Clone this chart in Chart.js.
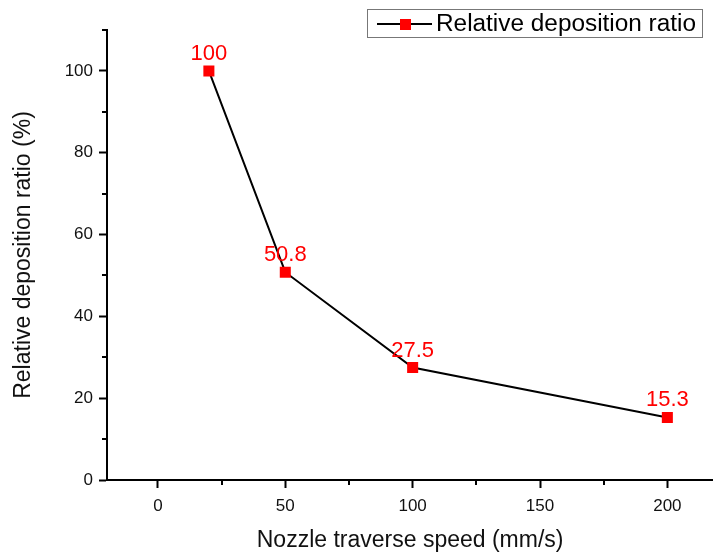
<!DOCTYPE html>
<html>
<head>
<meta charset="utf-8">
<script src="https://cdn.jsdelivr.net/npm/chart.js@4/dist/chart.umd.min.js"></script>
<style>
html, body { margin: 0; padding: 0; background: #fff; overflow: hidden; }
canvas { display: block; }
</style>
</head>
<body>
<canvas id="chart" width="721" height="556"></canvas>
<script>
// data
const speeds = [20, 50, 100, 200];          // mm/s
const ratios = [100, 50.8, 27.5, 15.3];     // %
const pointLabels = ['100', '50.8', '27.5', '15.3'];
const xMajorTicks = [0, 50, 100, 150, 200];
const yMajorTicks = [0, 20, 40, 60, 80, 100];

const FONT = "'Liberation Sans', Arial, sans-serif";

// short minor ticks between the labelled ones
const minorTicks = {
    id: 'minorTicks',
    afterDraw(chart) {
        const { ctx, chartArea, scales: { x, y } } = chart;
        ctx.save();
        ctx.strokeStyle = '#000';
        ctx.lineWidth = 2;
        x.ticks.forEach(t => {
            if (xMajorTicks.includes(t.value)) return;
            const px = Math.round(x.getPixelForValue(t.value));
            ctx.beginPath();
            ctx.moveTo(px, chartArea.bottom);
            ctx.lineTo(px, chartArea.bottom + 5);
            ctx.stroke();
        });
        y.ticks.forEach(t => {
            if (yMajorTicks.includes(t.value)) return;
            const py = Math.round(y.getPixelForValue(t.value));
            ctx.beginPath();
            ctx.moveTo(chartArea.left, py);
            ctx.lineTo(chartArea.left - 5, py);
            ctx.stroke();
        });
        ctx.restore();
    }
};

// red value labels above each point
const valueLabels = {
    id: 'valueLabels',
    afterDatasetsDraw(chart) {
        const { ctx } = chart;
        const meta = chart.getDatasetMeta(0);
        ctx.save();
        ctx.fillStyle = '#ff0000';
        ctx.font = '22px ' + FONT;
        ctx.textAlign = 'center';
        ctx.textBaseline = 'alphabetic';
        meta.data.forEach((pt, i) => {
            ctx.fillText(pointLabels[i], pt.x, pt.y - 11);
        });
        ctx.restore();
    }
};

// Origin-style legend box in the top right corner
const legendBox = {
    id: 'legendBox',
    afterDraw(chart) {
        const { ctx } = chart;
        const label = chart.data.datasets[0].label;
        ctx.save();
        const left = 367, top = 9, right = 702, h = 28;
        ctx.fillStyle = '#fff';
        ctx.fillRect(left, top, right - left, h);
        ctx.strokeStyle = '#777';
        ctx.lineWidth = 1;
        ctx.strokeRect(left + 0.5, top + 0.5, right - left, h);
        const cy = top + h / 2 + 1;
        ctx.strokeStyle = '#000';
        ctx.lineWidth = 2;
        ctx.beginPath();
        ctx.moveTo(377, cy);
        ctx.lineTo(432, cy);
        ctx.stroke();
        ctx.fillStyle = '#ff0000';
        ctx.fillRect(400, cy - 5, 11, 11);
        ctx.fillStyle = '#000';
        ctx.font = '23px ' + FONT;
        ctx.textBaseline = 'middle';
        const tw = ctx.measureText(label).width;
        const textX = 436;
        // squeeze/stretch to the width seen in the figure
        ctx.translate(textX, cy + 1);
        ctx.scale((right - 6 - textX) / tw, 1);
        ctx.fillText(label, 0, 0);
        ctx.restore();
    }
};

new Chart(document.getElementById('chart'), {
    type: 'line',
    data: {
        datasets: [{
            label: 'Relative deposition ratio',
            data: speeds.map((s, i) => ({ x: s, y: ratios[i] })),
            borderColor: '#000',
            borderWidth: 2,
            pointStyle: 'rect',
            pointRadius: 7.8,
            pointBackgroundColor: '#ff0000',
            pointBorderColor: '#ff0000',
            pointBorderWidth: 0,
            tension: 0
        }]
    },
    options: {
        responsive: false,
        animation: false,
        devicePixelRatio: 1,
        layout: { padding: { top: 30, right: 0, left: 0, bottom: 0 } },
        plugins: {
            legend: { display: false },
            tooltip: { enabled: false }
        },
        scales: {
            x: {
                type: 'linear',
                min: -20,
                max: 218,
                afterFit: s => { s.height = 76; },
                border: { color: '#000', width: 2 },
                grid: {
                    drawOnChartArea: false,
                    tickLength: 8,
                    tickWidth: 2,
                    tickColor: c => xMajorTicks.includes(c.tick.value) ? '#000' : 'rgba(0,0,0,0)'
                },
                ticks: {
                    stepSize: 25,
                    includeBounds: false,
                    autoSkip: false,
                    maxRotation: 0,
                    padding: 8,
                    color: '#111',
                    font: { size: 17, family: FONT },
                    callback: v => xMajorTicks.includes(v) ? String(v) : ''
                },
                title: {
                    display: true,
                    text: 'Nozzle traverse speed (mm/s)',
                    color: '#111',
                    font: { size: 23, family: FONT },
                    padding: { top: 0, bottom: 2 }
                }
            },
            y: {
                min: 0,
                max: 110,
                afterFit: s => { s.width = 107; },
                border: { color: '#000', width: 2 },
                grid: {
                    drawOnChartArea: false,
                    tickLength: 8,
                    tickWidth: 2,
                    tickColor: c => yMajorTicks.includes(c.tick.value) ? '#000' : 'rgba(0,0,0,0)'
                },
                ticks: {
                    stepSize: 10,
                    autoSkip: false,
                    padding: 6,
                    color: '#111',
                    font: { size: 17, family: FONT },
                    callback: v => yMajorTicks.includes(v) ? String(v) : ''
                },
                title: {
                    display: true,
                    text: 'Relative deposition ratio (%)',
                    color: '#111',
                    font: { size: 23, family: FONT },
                    padding: { top: 10, bottom: 0 }
                }
            }
        }
    },
    plugins: [minorTicks, valueLabels, legendBox]
});
</script>
</body>
</html>
